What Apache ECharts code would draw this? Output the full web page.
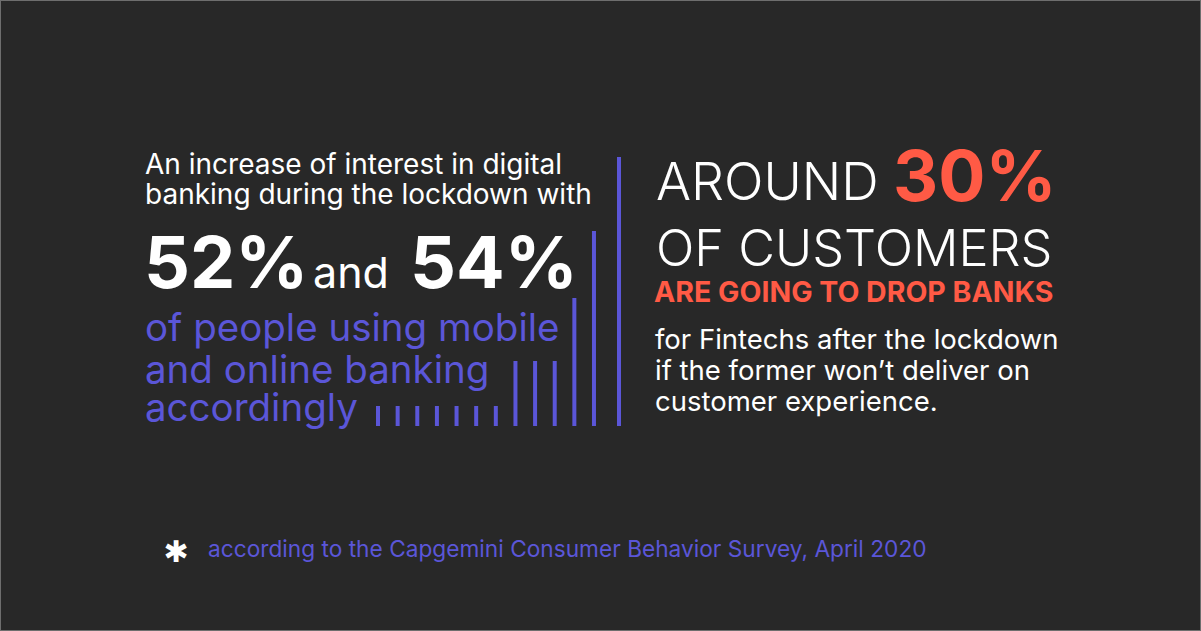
<!DOCTYPE html>
<html>
<head>
<meta charset="utf-8">
<script src="https://cdn.jsdelivr.net/npm/echarts@6/dist/echarts.min.js"></script>
<style>
html,body{margin:0;padding:0;background:#282828;}
#c{width:1201px;height:631px;box-sizing:border-box;border:1px solid #6e6e6e;}
</style>
</head>
<body>
<div id="c"></div>
<script>
// Data
const barCategories = ['b1','b2','b3','b4','b5','b6','b7','b8','b9','b10','b11','b12'];
const barValues = [20, 20, 20, 20, 20, 20, 20, 65, 65, 65, 128, 195];
const dividerCategories = ['divider'];
const dividerValues = [269];
const leftIntro = ['An increase of interest in digital', 'banking during the lockdown with'];
const leftStats = ['52%', 'and', '54%'];
const leftOutro = ['of people using mobile', 'and online banking', 'accordingly'];
const rightHead = ['AROUND', '30%', 'OF CUSTOMERS', 'ARE GOING TO DROP BANKS'];
const rightBody = ['for Fintechs after the lockdown', 'if the former won\u2019t deliver on', 'customer experience.'];
const footnote = 'according to the Capgemini Consumer Behavior Survey, April 2020';

const PURPLE = '#5b56d8';
const CORAL = '#ff5a45';
const WHITE = '#ffffff';
const FONT = 'Inter, "Noto Sans", sans-serif';

const chart = echarts.init(document.getElementById('c'), null, {renderer: 'svg'});

// x, baseline y, text, size
function txt(x, base, text, size, color, weight, lh) {
  return {
    type: 'text', x: x, y: base - 0.37 * size,
    style: {text: text, fontSize: size, fill: color, fontWeight: weight || 400,
      fontFamily: FONT, verticalAlign: 'middle', align: 'left',
      lineHeight: lh || size}
  };
}

const graphics = [
  txt(144, 173, leftIntro[0], 28, WHITE, 400, 27),
  txt(144, 203, leftIntro[1], 28, WHITE, 400, 27),
  txt(143, 287, leftStats[0], 72, WHITE, 700),
  txt(312, 287, leftStats[1], 43, WHITE, 400),
  txt(409, 287, leftStats[2], 72, WHITE, 700),
  txt(144, 340, leftOutro[0], 38.5, PURPLE, 400, 36),
  txt(144, 382, leftOutro[1], 38.5, PURPLE, 400, 36),
  txt(144, 420, leftOutro[2], 38.5, PURPLE, 400, 36),
  txt(655, 200, rightHead[0], 52, WHITE, 300),
  txt(892, 200, rightHead[1], 70, CORAL, 700),
  txt(655, 265, rightHead[2], 50.5, WHITE, 300, 46),
  txt(653, 301, rightHead[3], 28.5, CORAL, 700, 26),
  txt(654, 348, rightBody[0], 27.5, WHITE, 400, 27),
  txt(654, 379, rightBody[1], 27.5, WHITE, 400, 27),
  txt(654, 410, rightBody[2], 27.5, WHITE, 400, 27),
  {
    type: 'text', x: 175, y: 550,
    style: {text: '\u2731', fontSize: 30, fill: WHITE, fontWeight: 700,
      fontFamily: '"DejaVu Sans", sans-serif', verticalAlign: 'middle', align: 'center'}
  },
  txt(207, 556, footnote, 22.7, PURPLE, 400)
];

chart.setOption({
  backgroundColor: '#282828',
  animation: false,
  grid: [
    {left: 367.2, width: 235.6, top: 155, height: 270},
    {left: 612, width: 12, top: 155, height: 270}
  ],
  xAxis: [
    {gridIndex: 0, type: 'category', data: barCategories, show: false},
    {gridIndex: 1, type: 'category', data: dividerCategories, show: false}
  ],
  yAxis: [
    {gridIndex: 0, type: 'value', min: 0, max: 270, show: false},
    {gridIndex: 1, type: 'value', min: 0, max: 270, show: false}
  ],
  series: [
    {type: 'bar', xAxisIndex: 0, yAxisIndex: 0, data: barValues, barWidth: 4,
      itemStyle: {color: PURPLE}},
    {type: 'bar', xAxisIndex: 1, yAxisIndex: 1, data: dividerValues, barWidth: 4,
      itemStyle: {color: PURPLE}}
  ],
  graphic: graphics
});
</script>
</body>
</html>
